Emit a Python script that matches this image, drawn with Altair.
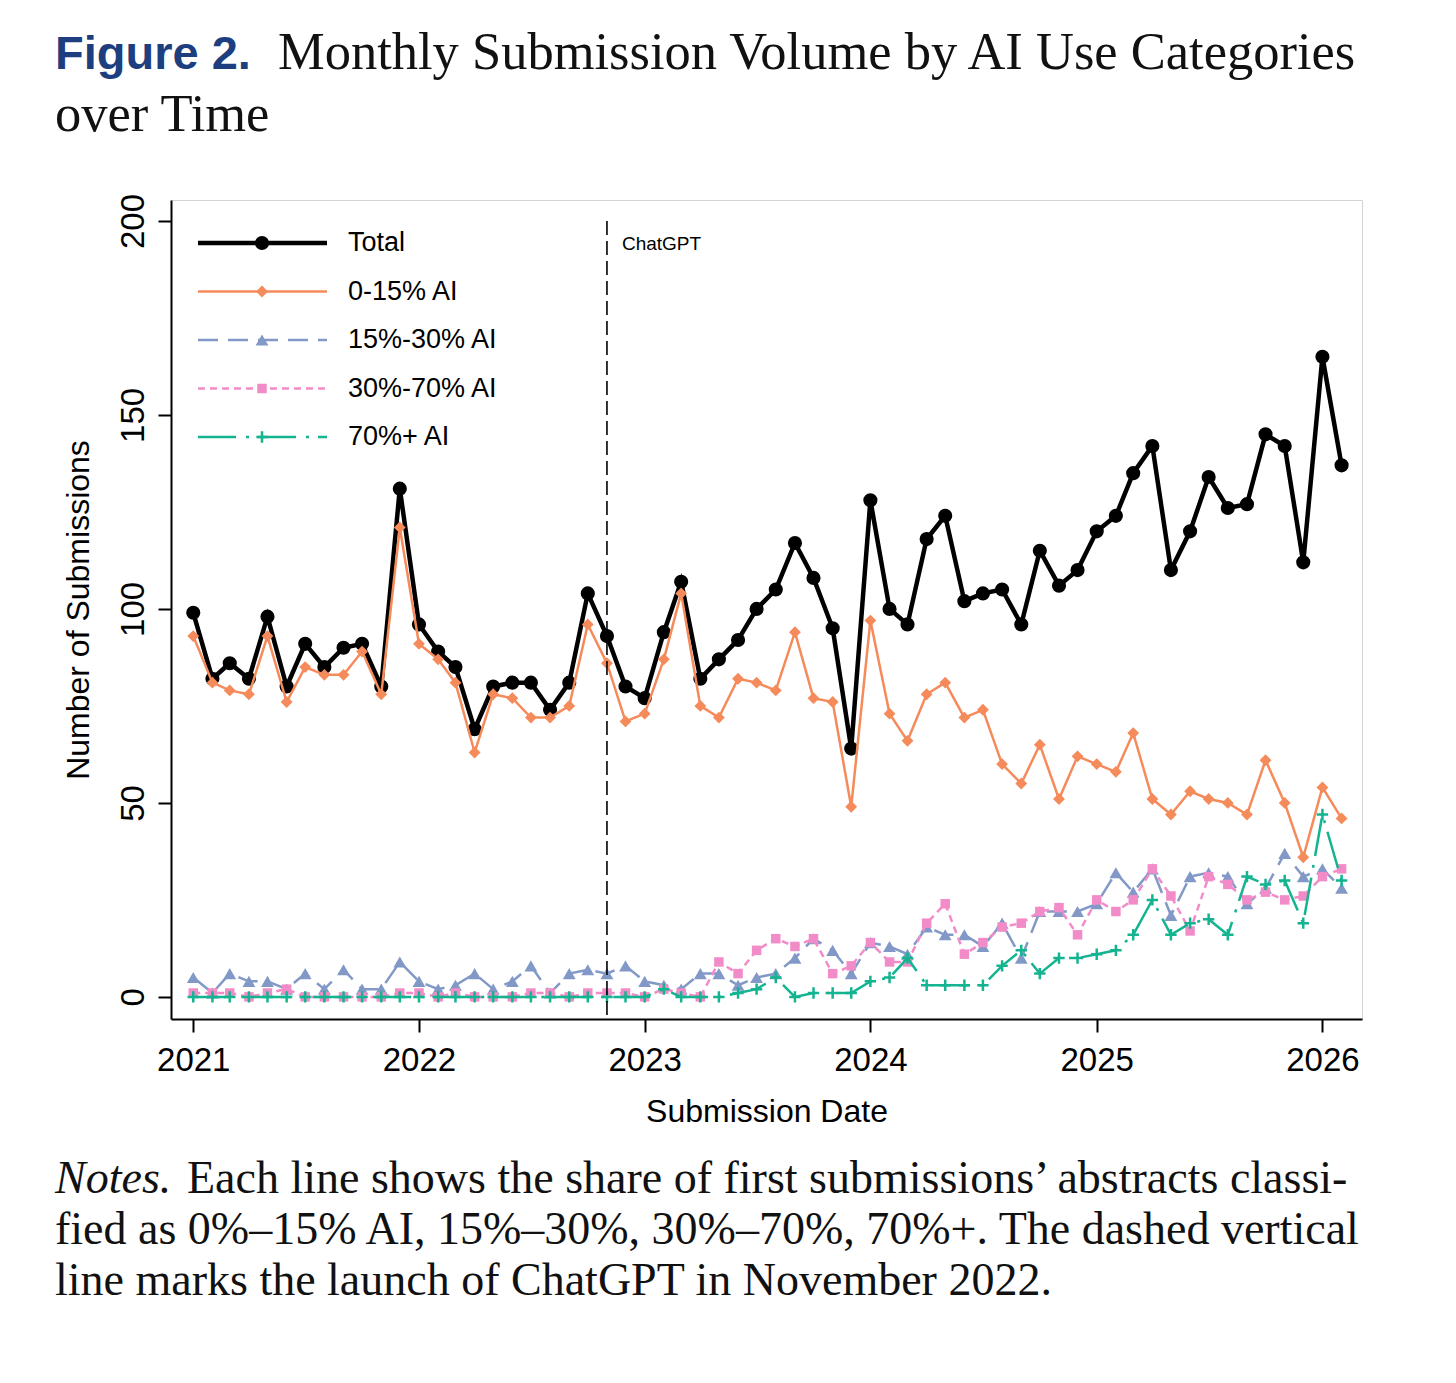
import altair as alt
import pandas as pd

# ---------------- data ----------------
DATES = pd.date_range("2021-01-01", periods=62, freq="MS").strftime("%Y-%m-%dT00:00:00").tolist()

SERIES = ["Total", "0-15% AI", "15%-30% AI", "30%-70% AI", "70%+ AI"]

TOTAL = [99, 82, 86, 82, 98, 80, 91, 85, 90, 91, 80, 131,
         96, 89, 85, 69, 80, 81, 81, 74, 81, 104, 93, 80,
         77, 94, 107, 82, 87, 92, 100, 105, 117, 108, 95, 64,
         128, 100, 96, 118, 124, 102, 104, 105, 96, 115, 106, 110,
         120, 124, 135, 142, 110, 120, 134, 126, 127, 145, 142, 112,
         165, 137]
AI_0_15 = [93, 81, 79, 78, 93, 76, 85, 83, 83, 89, 78, 121,
           91, 87, 81, 63, 78, 77, 72, 72, 75, 96, 86, 71,
           73, 87, 104, 75, 72, 82, 81, 79, 94, 77, 76, 49,
           97, 73, 66, 78, 81, 72, 74, 60, 55, 65, 51, 62,
           60, 58, 68, 51, 47, 53, 51, 50, 47, 61, 50, 36,
           54, 46]
AI_15_30 = [5, 1, 6, 4, 4, 2, 6, 2, 7, 2, 2, 9,
            4, 2, 3, 6, 2, 4, 8, 1, 6, 7, 6, 8,
            4, 3, 2, 6, 6, 3, 5, 6, 10, 15, 12, 6,
            14, 13, 11, 18, 16, 16, 13, 19, 10, 22, 22, 22,
            24, 32, 27, 33, 21, 31, 32, 31, 24, 28, 37, 31,
            33, 28]
AI_30_70 = [1, 1, 1, 0, 1, 2, 0, 0, 0, 0, 0, 1,
            1, 0, 1, 0, 0, 0, 1, 1, 0, 1, 1, 1,
            0, 2, 1, 0, 9, 6, 12, 15, 13, 15, 6, 8,
            14, 9, 9, 19, 24, 11, 14, 18, 19, 22, 23, 16,
            25, 22, 25, 33, 26, 17, 31, 29, 25, 27, 25, 26,
            31, 33]
AI_70 = [0, 0, 0, 0, 0, 0, 0, 0, 0, 0, 0, 0,
         0, 0, 0, 0, 0, 0, 0, 0, 0, 0, 0, 0,
         0, 2, 0, 0, 0, 1, 2, 5, 0, 1, 1, 1,
         4, 5, 10, 3, 3, 3, 3, 8, 12, 6, 10, 10,
         11, 12, 16, 25, 16, 19, 20, 16, 31, 29, 30, 19,
         47, 30]
VALUES = [TOTAL, AI_0_15, AI_15_30, AI_30_70, AI_70]

CHATGPT_DATE = ["2022-11-01T00:00:00"]
CHATGPT_LABEL = ["ChatGPT"]

TITLE_BOLD = "Figure 2."
TITLE_LINE1 = "Monthly Submission Volume by AI Use Categories"
TITLE_LINE2 = "over Time"
NOTES_LEAD = "Notes."
NOTES_LINES = [
    "Each line shows the share of first submissions\u2019 abstracts classi-",
    "fied as 0%\u201315% AI, 15%\u201330%, 30%\u201370%, 70%+. The dashed vertical",
    "line marks the launch of ChatGPT in November 2022.",
]

# ---------------- styles ----------------
PLUS = "M-1,0L1,0M0,-1L0,1"
STYLES = [
    dict(color="#000000", width=4.5, dash=None, shape="circle", size=200, filled=True),
    dict(color="#F58A5A", width=2.5, dash=None, shape="diamond", size=140, filled=True),
    dict(color="#8299C8", width=2.5, dash=[20, 10], shape="triangle-up", size=165, filled=True),
    dict(color="#F28CC8", width=2.5, dash=[7, 5], shape="square", size=90, filled=True),
    dict(color="#14B491", width=2.5, dash=[38, 10, 3, 9], shape=PLUS, size=130, filled=False),
]

SANS = "Liberation Sans"
SERIF = "Liberation Serif"
W, H = 1191, 819

x_enc = alt.X(
    "date:T",
    scale=alt.Scale(domain=[alt.DateTime(year=2020, month=11, date=26),
                            alt.DateTime(year=2026, month=3, date=6)]),
    axis=alt.Axis(
        values=[alt.DateTime(year=y, month=1, date=1) for y in range(2021, 2027)],
        format="%Y", labelFont=SANS, labelFontSize=33, labelColor="black",
        tickSize=13, tickWidth=2, tickColor="black", domainColor="black", domainWidth=2,
        grid=False, labelPadding=12, labelFlush=False, labelOverlap=False,
        title="Submission Date", titleFont=SANS, titleFontSize=32, titleFontWeight="normal",
        titleColor="black", titlePadding=19,
    ),
)
y_enc = alt.Y(
    "value:Q",
    scale=alt.Scale(domain=[-5.7, 205.4], nice=False, zero=False),
    axis=alt.Axis(
        values=[0, 50, 100, 150, 200], labelAngle=270, labelAlign="center", labelBaseline="bottom",
        labelFont=SANS, labelFontSize=33, labelColor="black", labelPadding=8,
        tickSize=13, tickWidth=2, tickColor="black", domainColor="black", domainWidth=2,
        grid=False, title="Number of Submissions", titleFont=SANS, titleFontSize=32,
        titleFontWeight="normal", titleColor="black", titlePadding=22,
    ),
)

layers = []
# series
for name, vals, st in zip(SERIES, VALUES, STYLES):
    df = pd.DataFrame({"date": DATES, "value": vals, "series": name})
    line_kw = dict(color=st["color"], strokeWidth=st["width"])
    if st["dash"]:
        line_kw["strokeDash"] = st["dash"]
    line = alt.Chart(df).mark_line(**line_kw).encode(x=x_enc, y=y_enc)
    if st["filled"]:
        pt = alt.Chart(df).mark_point(shape=st["shape"], size=st["size"], filled=True,
                                      color=st["color"], opacity=1)
    else:
        pt = alt.Chart(df).mark_point(shape=st["shape"], size=st["size"], filled=False,
                                      stroke=st["color"], strokeWidth=2.5, opacity=1)
    layers += [line, pt.encode(x=x_enc, y=y_enc)]

# ChatGPT vertical line
cg = pd.DataFrame({"date": CHATGPT_DATE, "label": CHATGPT_LABEL})
layers.append(alt.Chart(cg).mark_rule(color="black", strokeWidth=1.6, strokeDash=[14, 6]).encode(
    x=x_enc, y=alt.value(21), y2=alt.value(815)))
layers.append(alt.Chart(cg).mark_text(align="left", baseline="alphabetic", dx=15, font=SANS,
                                      fontSize=19, color="black").encode(
    x=x_enc, y=alt.value(50), text="label:N"))

# legend (drawn manually: line + marker + label)
for k, (name, st) in enumerate(zip(SERIES, STYLES)):
    ry = 43 + 48.5 * k
    ldf = pd.DataFrame({"label": [name]})
    rk = dict(color=st["color"], strokeWidth=st["width"])
    if st["dash"]:
        rk["strokeDash"] = st["dash"]
    layers.append(alt.Chart(ldf).mark_rule(**rk).encode(
        x=alt.value(27), x2=alt.value(156), y=alt.value(ry)))
    if st["filled"]:
        m = alt.Chart(ldf).mark_point(shape=st["shape"], size=st["size"], filled=True,
                                      color=st["color"], opacity=1)
    else:
        m = alt.Chart(ldf).mark_point(shape=st["shape"], size=st["size"], filled=False,
                                      stroke=st["color"], strokeWidth=2.5, opacity=1)
    layers.append(m.encode(x=alt.value(91), y=alt.value(ry)))
    layers.append(alt.Chart(ldf).mark_text(align="left", baseline="middle", font=SANS,
                                           fontSize=27, color="black").encode(
        x=alt.value(177), y=alt.value(ry), text="label:N"))

# title and notes
def txt(s, x, y, **kw):
    return alt.Chart(pd.DataFrame({"t": [s]})).mark_text(
        align="left", baseline="alphabetic", **kw).encode(
        x=alt.value(x), y=alt.value(y), text="t:N")

layers.append(txt(TITLE_BOLD, -116, -131, font=SANS, fontSize=47, fontWeight="bold", color="#1D3F7F"))
layers.append(txt(TITLE_LINE1, 107, -131, font=SERIF, fontSize=52.5, color="#111111"))
layers.append(txt(TITLE_LINE2, -116, -69, font=SERIF, fontSize=52.5, color="#111111"))
layers.append(txt(NOTES_LEAD, -116, 993, font=SERIF, fontSize=46, fontStyle="italic", color="#111111"))
layers.append(txt(NOTES_LINES[0], 16, 993, font=SERIF, fontSize=46, color="#111111"))
layers.append(txt(NOTES_LINES[1], -116, 1044, font=SERIF, fontSize=46, color="#111111"))
layers.append(txt(NOTES_LINES[2], -116, 1095, font=SERIF, fontSize=46, color="#111111"))

chart = alt.layer(*layers).properties(
    width=W, height=H,
    autosize=alt.AutoSizeParams(type="none"),
    padding={"left": 163, "top": 192, "right": 80, "bottom": 340},
    background="white",
).configure_view(stroke="#d4d4d4", strokeWidth=1)

chart.save("out.html", embed_options={"renderer": "svg", "actions": False})
